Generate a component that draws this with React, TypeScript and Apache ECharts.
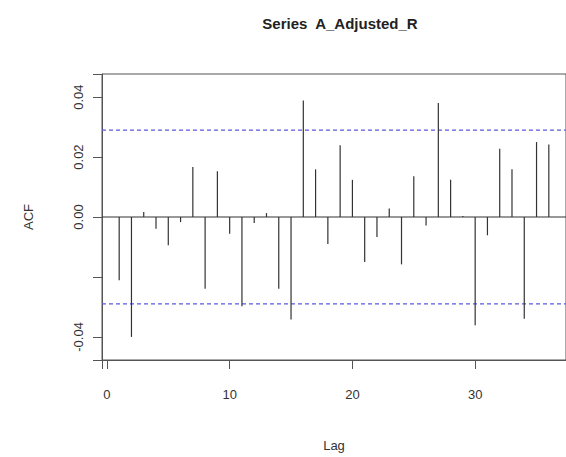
import React, { useEffect, useRef } from "react";
import * as echarts from "echarts";

const lags = [1,2,3,4,5,6,7,8,9,10,11,12,13,14,15,16,17,18,19,20,21,22,23,24,25,26,27,28,29,30,31,32,33,34,35,36];
const acfValues = [
  -0.0211, -0.0400, 0.0017, -0.0039, -0.0094, -0.0017, 0.0167, -0.0239, 0.0153, -0.0056,
  -0.0298, -0.0020, 0.0013, -0.0239, -0.0342, 0.0389, 0.0159, -0.0090, 0.0239, 0.0124,
  -0.0150, -0.0067, 0.0028, -0.0158, 0.0136, -0.0028, 0.0380, 0.0124, 0.0003, -0.0361,
  -0.0061, 0.0228, 0.0159, -0.0339, 0.0250, 0.0242,
];
const confBound = 0.029;
const xTicks = [0, 10, 20, 30];
const yTicks = [-0.04, -0.02, 0, 0.02, 0.04];
const yHiddenLabels = [-0.02];
const xMin = -0.4;
const xMax = 37.4;

export default function App() {
  const ref = useRef<HTMLDivElement>(null);
  useEffect(() => {
    if (!ref.current) return;
    const chart = echarts.init(ref.current, null, { renderer: "svg" });
    const font = "'Liberation Sans', Arial, sans-serif";
    const hLine = (y: number, color: string, type: any) => ({
      type: "line",
      data: [[xMin, y], [xMax, y]],
      symbol: "none",
      silent: true,
      lineStyle: { color, type, width: 1.2 },
      z: 1,
    });
    chart.setOption({
      animation: false,
      backgroundColor: "#ffffff",
      title: {
        text: "Series  A_Adjusted_R",
        left: 335,
        textAlign: "center",
        top: 11,
        textStyle: { fontFamily: font, fontWeight: "bold", fontSize: 15, color: "#222" },
      },
      grid: {
        left: 102,
        right: -1,
        top: 74,
        bottom: 97,
        show: true,
        borderColor: "#555",
        borderWidth: 1,
        backgroundColor: "transparent",
      },
      xAxis: {
        type: "value",
        min: xMin,
        max: xMax,
        name: "Lag",
        nameLocation: "middle",
        nameGap: 79,
        nameTextStyle: { fontFamily: font, fontSize: 13, color: "#333" },
        axisLine: { show: true, onZero: false, lineStyle: { color: "#555", width: 1 } },
        splitLine: { show: false },
        axisTick: { show: true, length: 9, lineStyle: { color: "#555" } },
        axisLabel: {
          customValues: xTicks,
          margin: 28,
          fontFamily: font,
          fontSize: 13,
          color: "#333",
          showMinLabel: true,
          showMaxLabel: true,
        },
      },
      yAxis: {
        type: "value",
        min: -0.0477,
        max: 0.0477,
        name: "ACF",
        nameLocation: "middle",
        nameGap: 67,
        nameRotate: 90,
        nameTextStyle: { fontFamily: font, fontSize: 13, color: "#333" },
        axisLine: { show: true, onZero: false, lineStyle: { color: "#555", width: 1 } },
        splitLine: { show: false },
        axisTick: { show: true, length: 9, lineStyle: { color: "#555" } },
        axisLabel: {
          customValues: yTicks,
          rotate: 90,
          margin: 17,
          fontFamily: font,
          fontSize: 13,
          color: "#333",
          formatter: (v: number) =>
            yHiddenLabels.some((h) => Math.abs(h - v) < 1e-9) ? "" : v.toFixed(2),
        },
      },
      series: [
        hLine(0, "#333", "solid"),
        hLine(confBound, "#5a5ae0", [4, 3]),
        hLine(-confBound, "#5a5ae0", [4, 3]),
        {
          type: "custom",
          z: 3,
          data: lags.map((l, i) => [l, acfValues[i]]),
          renderItem: (params: any, api: any) => {
            const p0 = api.coord([api.value(0), 0]);
            const p1 = api.coord([api.value(0), api.value(1)]);
            return {
              type: "line",
              shape: { x1: p0[0], y1: p0[1], x2: p1[0], y2: p1[1] },
              style: { stroke: "#333", lineWidth: 1.2 },
            };
          },
        },
      ],
    });
    return () => chart.dispose();
  }, []);
  return (
    <div
      ref={ref}
      style={{ position: "fixed", left: 0, top: 0, width: 566, height: 457 }}
    />
  );
}
